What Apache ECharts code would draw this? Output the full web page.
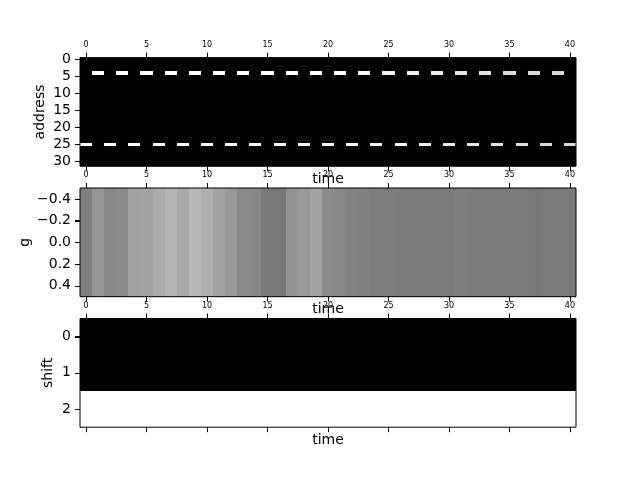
<html>
<head>
  <meta charset="UTF-8">
  <title>address / g / shift</title>
  <script src="https://cdn.jsdelivr.net/npm/echarts@6/dist/echarts.min.js"></script>
  <style>
    body { margin: 0; background: #fff; }
    #main { width: 640px; height: 480px; }
  </style>
</head>
<body>
<div id="main"></div>

<script type="text/javascript">
    // data (gray level 0..1, 0 = black, 1 = white)
    var timeSteps = [0, 1, 2, 3, 4, 5, 6, 7, 8, 9, 10, 11, 12, 13, 14, 15, 16, 17, 18, 19, 20,
                     21, 22, 23, 24, 25, 26, 27, 28, 29, 30, 31, 32, 33, 34, 35, 36, 37, 38, 39, 40];
    var addressCount = 32;
    // the only two address rows that are not black
    var addressRow4 = [0, 1, 0, 1, 0, 1, 0, 1, 0, 1, 0, 1, 0, 1, 0, 1, 0, 1, 0, 1, 0,
                       1, 0, 0.98, 0, 0.96, 0, 0.94, 0, 0.92, 0, 0.9, 0, 0.89, 0, 0.87, 0, 0.86, 0, 0.85, 0];
    var addressRow25 = [1, 0, 1, 0, 1, 0, 1, 0, 1, 0, 1, 0, 1, 0, 1, 0, 1, 0, 1, 0, 1,
                        0, 0.99, 0, 0.97, 0, 0.96, 0, 0.94, 0, 0.92, 0, 0.91, 0, 0.89, 0, 0.88, 0, 0.86, 0, 0.85];
    var gValues = [0.50, 0.59, 0.53, 0.54, 0.63, 0.64, 0.67, 0.71, 0.66, 0.72, 0.69, 0.63, 0.60, 0.54,
                   0.53, 0.47, 0.47, 0.58, 0.60, 0.64, 0.55, 0.53, 0.51, 0.50, 0.49, 0.49, 0.48, 0.48,
                   0.48, 0.48, 0.48, 0.49, 0.48, 0.48, 0.48, 0.48, 0.48, 0.47, 0.48, 0.48, 0.48];
    var shiftColumn = [0, 0, 1];   // same at every time step

    var timeTicks = [0, 5, 10, 15, 20, 25, 30, 35, 40];
    var addressTicks = [0, 5, 10, 15, 20, 25, 30];
    var gTicks = [-0.4, -0.2, 0, 0.2, 0.4];
    var shiftTicks = [0, 1, 2];

    var addressData = [];
    var gData = [];
    var shiftData = [];
    for (var t = 0; t < timeSteps.length; t++) {
        for (var a = 0; a < addressCount; a++) {
            var v = 0;
            if (a == 4) v = addressRow4[t];
            if (a == 25) v = addressRow25[t];
            addressData.push([timeSteps[t], a, v]);
        }
        gData.push([timeSteps[t], 0, gValues[t]]);
        for (var s = 0; s < shiftColumn.length; s++) {
            shiftData.push([timeSteps[t], s, shiftColumn[s]]);
        }
    }

    var font = 'DejaVu Sans';
    var timeMin = -0.5, timeMax = 40.5;

    // one imshow cell, pixel-rounded so neighbours leave no seams
    function cellRender(params, api) {
        var x = api.value(0), y = api.value(1), v = api.value(2);
        var p0 = api.coord([x - 0.5, y - 0.5]);
        var p1 = api.coord([x + 0.5, y + 0.5]);
        var x0 = Math.round(Math.min(p0[0], p1[0])), x1 = Math.round(Math.max(p0[0], p1[0]));
        var y0 = Math.round(Math.min(p0[1], p1[1])), y1 = Math.round(Math.max(p0[1], p1[1]));
        var c = Math.round(255 * v);
        return {
            type: 'rect',
            shape: { x: x0, y: y0, width: x1 - x0, height: y1 - y0 },
            style: { fill: 'rgb(' + c + ',' + c + ',' + c + ')' }
        };
    }

    // y ticks, drawn as small filled bars just left of the frame
    function yTickRender(params, api) {
        var p = api.coord([api.value(0), api.value(1)]);
        return {
            type: 'rect',
            shape: { x: Math.round(p[0]) - 5, y: Math.round(p[1]), width: 5, height: 1 },
            style: { fill: '#000' }
        };
    }

    function gridAt(top, height) {
        return {
            left: 80, width: 496, top: top, height: height,
            show: true, borderColor: '#000', borderWidth: 1, z: 5,
            backgroundColor: 'transparent',
            outerBoundsMode: 'none'
        };
    }

    function topTimeAxis(idx) {
        return {
            type: 'value', gridIndex: idx, position: 'top',
            min: timeMin, max: timeMax, z: 6,
            axisLine: { show: false, onZero: false },
            axisTick: { show: true, length: 5, customValues: timeTicks, lineStyle: { color: '#000', width: 1 } },
            axisLabel: { show: true, customValues: timeTicks, fontSize: 8, margin: 9, color: '#000', fontFamily: font },
            splitLine: { show: false }
        };
    }

    function bottomTimeAxis(idx) {
        return {
            type: 'value', gridIndex: idx, position: 'bottom',
            min: timeMin, max: timeMax, z: 6,
            name: 'time', nameLocation: 'middle', nameGap: 6, nameMoveOverlap: false,
            nameTextStyle: { fontSize: 14, color: '#000', fontFamily: font, verticalAlign: 'top' },
            axisLine: { show: false, onZero: false },
            axisTick: { show: true, length: 5, customValues: timeTicks, lineStyle: { color: '#000', width: 1 } },
            axisLabel: { show: false },
            splitLine: { show: false }
        };
    }

    function sideAxis(idx, min, max, ticks, name, gap, fmt) {
        return {
            type: 'value', gridIndex: idx, inverse: true, position: 'left',
            min: min, max: max, z: 6, zlevel: 1,
            name: name, nameLocation: 'middle', nameGap: gap, nameRotate: 90, nameMoveOverlap: false,
            nameTextStyle: { fontSize: 14, color: '#000', fontFamily: font },
            axisLine: { show: false, onZero: false },
            axisTick: { show: true, length: 5, customValues: ticks, lineStyle: { color: '#000', width: 1 } },
            axisLabel: { show: true, customValues: ticks, fontSize: 14, margin: 9, color: '#000', fontFamily: font, formatter: fmt },
            splitLine: { show: false }
        };
    }

    function gFormat(v) {
        return (v < -1e-9 ? '\u2212' : '') + Math.abs(v).toFixed(1);
    }

    function tickSeries(xIdx, yIdx, ticks) {
        return {
            type: 'custom', xAxisIndex: xIdx, yAxisIndex: yIdx, clip: false, silent: true,
            z: 10, zlevel: 1,
            renderItem: yTickRender,
            data: ticks.map(function (v) { return [timeMin, v]; })
        };
    }

    var myChart = echarts.init(document.getElementById('main'), null, { renderer: 'canvas' });
    var option = {
        animation: false,
        backgroundColor: '#fff',
        grid: [gridAt(57.6, 108.7), gridAt(188, 108.7), gridAt(318.5, 108.7)],
        xAxis: [topTimeAxis(0), bottomTimeAxis(0), topTimeAxis(1), bottomTimeAxis(1), topTimeAxis(2), bottomTimeAxis(2)],
        yAxis: [
            sideAxis(0, -0.5, 31.5, addressTicks, 'address', 33),
            sideAxis(1, -0.5, 0.5, gTicks, 'g', 48, gFormat),
            sideAxis(2, -0.5, 2.5, shiftTicks, 'shift', 25)
        ],
        series: [
            { type: 'custom', xAxisIndex: 0, yAxisIndex: 0, renderItem: cellRender, data: addressData },
            { type: 'custom', xAxisIndex: 2, yAxisIndex: 1, renderItem: cellRender, data: gData },
            { type: 'custom', xAxisIndex: 4, yAxisIndex: 2, renderItem: cellRender, data: shiftData },
            tickSeries(0, 0, addressTicks),
            tickSeries(2, 1, gTicks),
            tickSeries(4, 2, shiftTicks)
        ]
    };
    myChart.setOption(option);
</script>
</body>
</html>
